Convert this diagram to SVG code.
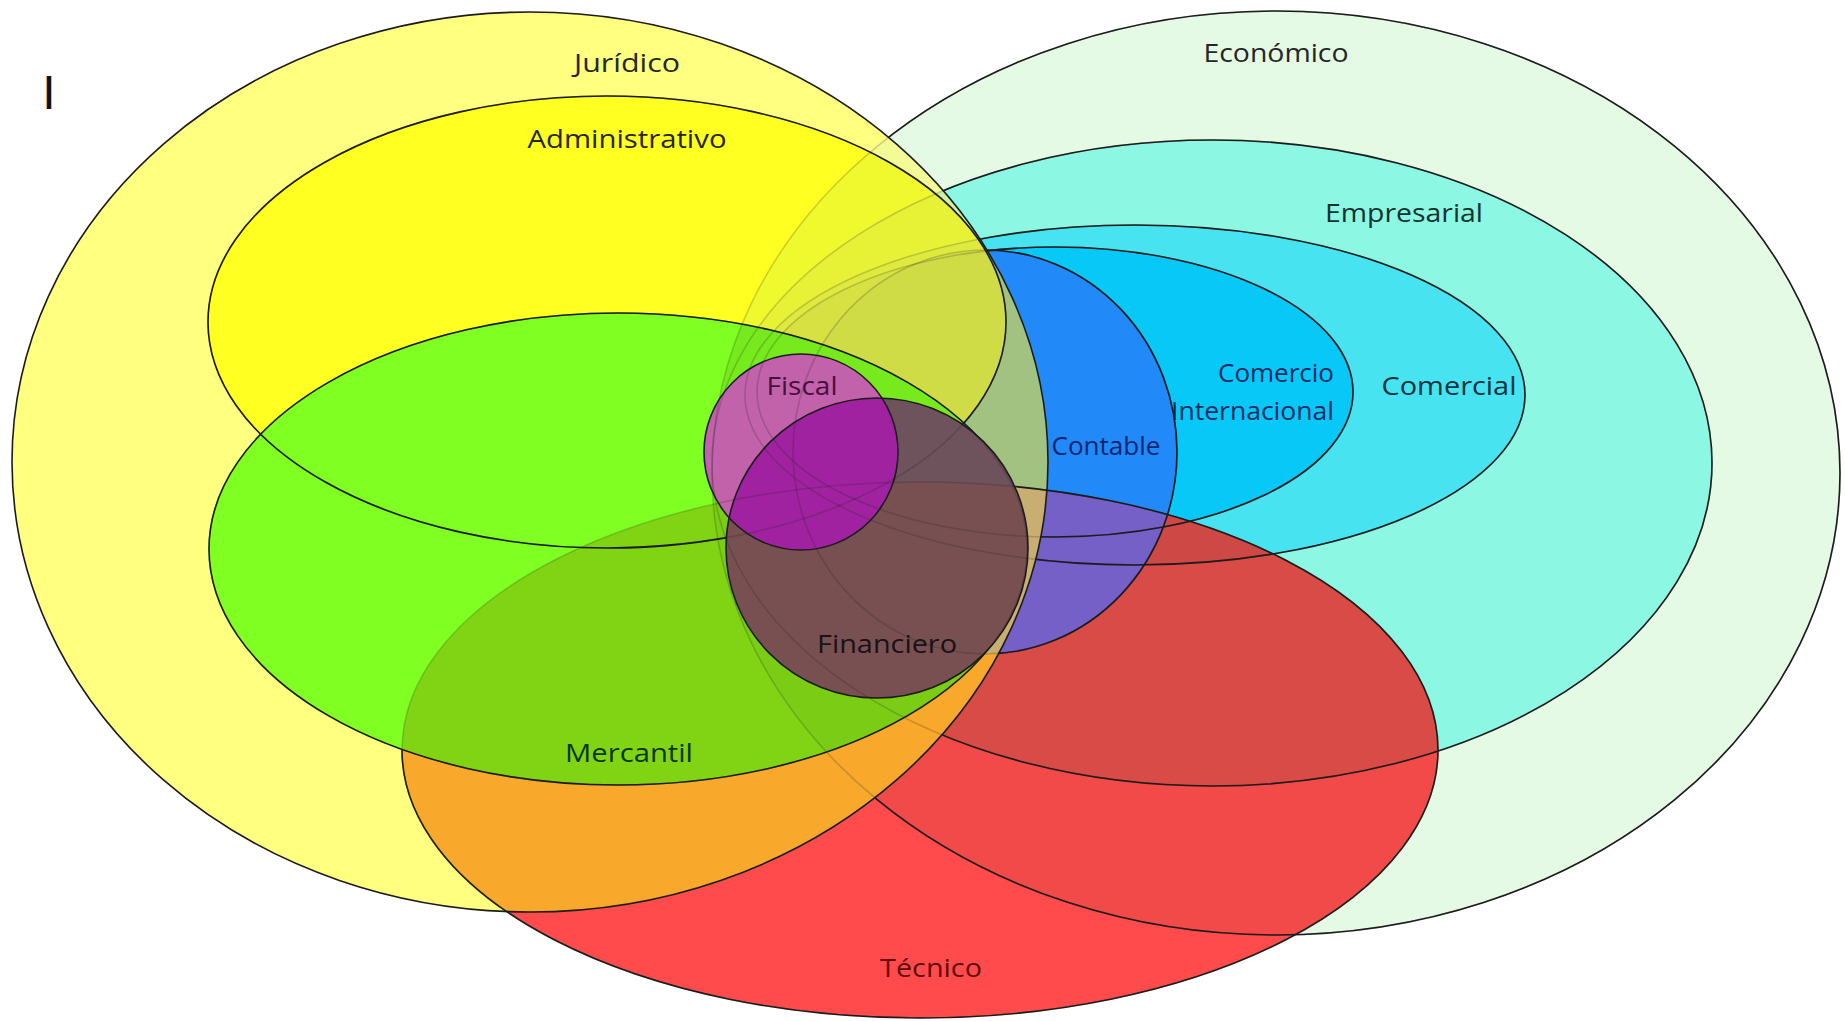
<svg xmlns="http://www.w3.org/2000/svg" xmlns:xlink="http://www.w3.org/1999/xlink" width="1845" height="1021" viewBox="0 0 1845 1021">
<style>
.lbl{font-family:"Open Sans","Liberation Sans",sans-serif;font-size:26px;text-anchor:middle}
.end{text-anchor:end}
.ol{fill:none;stroke:#1c1c1c;stroke-width:1.6}
.faint{stroke-opacity:0.2}
</style>
<defs>
<ellipse id="eE" cx="1276" cy="473" rx="564" ry="462"/>
<ellipse id="eEmp" cx="1212" cy="463" rx="500" ry="323"/>
<ellipse id="eC" cx="1135" cy="395" rx="390" ry="170"/>
<ellipse id="eCI" cx="1055" cy="392" rx="298" ry="145"/>
<ellipse id="eCt" cx="985" cy="452" rx="192" ry="202"/>
<ellipse id="eT" cx="920" cy="750" rx="518" ry="268"/>
<ellipse id="eJ" cx="530" cy="462" rx="518" ry="450"/>
<ellipse id="eA" cx="607" cy="322" rx="399" ry="226"/>
<ellipse id="eMe" cx="618" cy="549" rx="409" ry="236"/>
<ellipse id="eF" cx="801" cy="452" rx="97" ry="98"/>
<ellipse id="eFi" cx="877" cy="548" rx="151" ry="150"/>
<clipPath id="cpE"><use href="#eE"/></clipPath>
<clipPath id="cpEmp"><use href="#eEmp"/></clipPath>
<clipPath id="cpC"><use href="#eC"/></clipPath>
<clipPath id="cpCI"><use href="#eCI"/></clipPath>
<clipPath id="cpCt"><use href="#eCt"/></clipPath>
<clipPath id="cpT"><use href="#eT"/></clipPath>
<clipPath id="cpJ"><use href="#eJ"/></clipPath>
<clipPath id="cpA"><use href="#eA"/></clipPath>
<clipPath id="cpMe"><use href="#eMe"/></clipPath>
<clipPath id="cpF"><use href="#eF"/></clipPath>
<clipPath id="cpFi"><use href="#eFi"/></clipPath>
<mask id="mOutJ" maskUnits="userSpaceOnUse" x="0" y="0" width="1845" height="1021">
<rect width="1845" height="1021" fill="#fff"/><use href="#eJ" fill="#000"/>
</mask>
<mask id="mOutMeFi" maskUnits="userSpaceOnUse" x="0" y="0" width="1845" height="1021">
<rect width="1845" height="1021" fill="#fff"/><use href="#eMe" fill="#000"/><use href="#eFi" fill="#000"/>
</mask>
<mask id="mOutFFi" maskUnits="userSpaceOnUse" x="0" y="0" width="1845" height="1021">
<rect width="1845" height="1021" fill="#fff"/><use href="#eF" fill="#000"/><use href="#eFi" fill="#000"/>
</mask>
<mask id="mOutFi" maskUnits="userSpaceOnUse" x="0" y="0" width="1845" height="1021">
<rect width="1845" height="1021" fill="#fff"/><use href="#eFi" fill="#000"/>
</mask>
</defs>
<rect width="1845" height="1021" fill="#ffffff"/>

<g id="economico">
<use href="#eE" fill="#E4FAE4"/>
<text class="lbl" x="1276" y="62" fill="#262626" textLength="145" lengthAdjust="spacingAndGlyphs">Económico</text>
</g>
<g id="empresarial">
<use href="#eEmp" fill="#8CF7E2"/>
<text class="lbl" x="1404" y="222" fill="#16322e" textLength="158" lengthAdjust="spacingAndGlyphs">Empresarial</text>
</g>
<g id="comercial">
<use href="#eC" fill="#48E3F0"/>
<text class="lbl" x="1449" y="395" fill="#0a3440" textLength="135" lengthAdjust="spacingAndGlyphs">Comercial</text>
</g>
<g id="comercio-internacional">
<use href="#eCI" fill="#08C8F8"/>
<text class="lbl end" x="1334" y="382" fill="#082c62" textLength="116" lengthAdjust="spacingAndGlyphs">Comercio</text>
<text class="lbl end" x="1334" y="420" fill="#082c62" textLength="163" lengthAdjust="spacingAndGlyphs">Internacional</text>
</g>
<g id="contable">
<use href="#eCt" fill="#2289F8"/>
<text class="lbl" x="1106" y="455" fill="#082670" textLength="109" lengthAdjust="spacingAndGlyphs">Contable</text>
</g>
<g id="tecnico">
<use href="#eT" fill="#FF4B4B"/>
<g clip-path="url(#cpE)"><use href="#eT" fill="#F24A48"/></g>
<g clip-path="url(#cpEmp)"><use href="#eT" fill="#D94B46"/></g>
<g clip-path="url(#cpC)"><use href="#eT" fill="#CE4845"/></g>
<g clip-path="url(#cpCt)"><use href="#eT" fill="#7460C6"/></g>
<text class="lbl" x="931" y="977" fill="#600a0a" textLength="102" lengthAdjust="spacingAndGlyphs">Técnico</text>
</g>
<g id="juridico">
<use href="#eJ" fill="#FFFF80"/>
<g clip-path="url(#cpJ)">
<use href="#eE" fill="#F2FB96"/>
<use href="#eEmp" fill="#CFEFA2"/>
<use href="#eC" fill="#BCDC94"/>
<use href="#eCI" fill="#AECE8A"/>
<use href="#eCt" fill="#A2C282"/>
<use href="#eT" fill="#F8A82A"/>
<g clip-path="url(#cpCt)"><use href="#eT" fill="#C8AE70"/></g>
</g>
<text class="lbl" x="627" y="72" fill="#262626" textLength="106" lengthAdjust="spacingAndGlyphs">Jurídico</text>
</g>
<g id="administrativo">
<use href="#eA" fill="#FFFF22"/>
<g clip-path="url(#cpA)">
<use href="#eE" fill="#F0F92E"/>
<use href="#eEmp" fill="#E7F236"/>
<use href="#eC" fill="#DFEA3E"/>
<use href="#eCI" fill="#D7E242"/>
<use href="#eCt" fill="#D0DC46"/>
</g>
<text class="lbl" x="627" y="148" fill="#262626" textLength="199" lengthAdjust="spacingAndGlyphs">Administrativo</text>
</g>
<g id="mercantil">
<use href="#eMe" fill="#80FF22"/>
<g clip-path="url(#cpMe)">
<use href="#eE" fill="#76EA1C"/>
<use href="#eT" fill="#80D414"/>
<g clip-path="url(#cpE)"><use href="#eT" fill="#7ACC14"/></g>
</g>
<text class="lbl" x="629" y="762" fill="#0a360a" textLength="128" lengthAdjust="spacingAndGlyphs">Mercantil</text>
</g>
<g id="fiscal">
<use href="#eF" fill="#C262AA"/>
<text class="lbl" x="802" y="395" fill="#461040" textLength="71" lengthAdjust="spacingAndGlyphs">Fiscal</text>
</g>
<g id="financiero">
<use href="#eFi" fill="#6E525C"/>
<g clip-path="url(#cpFi)">
<use href="#eT" fill="#785052"/>
<use href="#eF" fill="#A022A0"/>
</g>
<text class="lbl" x="887" y="653" fill="#1a1216" textLength="140" lengthAdjust="spacingAndGlyphs">Financiero</text>
</g>

<g id="outlines">
<g class="ol faint">
<use href="#eE"/><use href="#eEmp"/><use href="#eC"/><use href="#eCI"/><use href="#eCt"/>
<use href="#eT"/><use href="#eA"/><use href="#eMe"/>
</g>
<g class="ol" mask="url(#mOutJ)">
<use href="#eE"/><use href="#eEmp"/><use href="#eC"/><use href="#eCI"/><use href="#eCt"/>
</g>
<g class="ol" mask="url(#mOutMeFi)"><use href="#eT"/></g>
<g class="ol" mask="url(#mOutFFi)"><use href="#eA"/></g>
<g class="ol" mask="url(#mOutFi)"><use href="#eMe"/></g>
<g class="ol">
<use href="#eJ"/><use href="#eF"/><use href="#eFi"/>
</g>
</g>

<text x="49" y="109" font-family="Liberation Sans, Arial, sans-serif" font-size="48" text-anchor="middle" fill="#111">I</text>
</svg>
